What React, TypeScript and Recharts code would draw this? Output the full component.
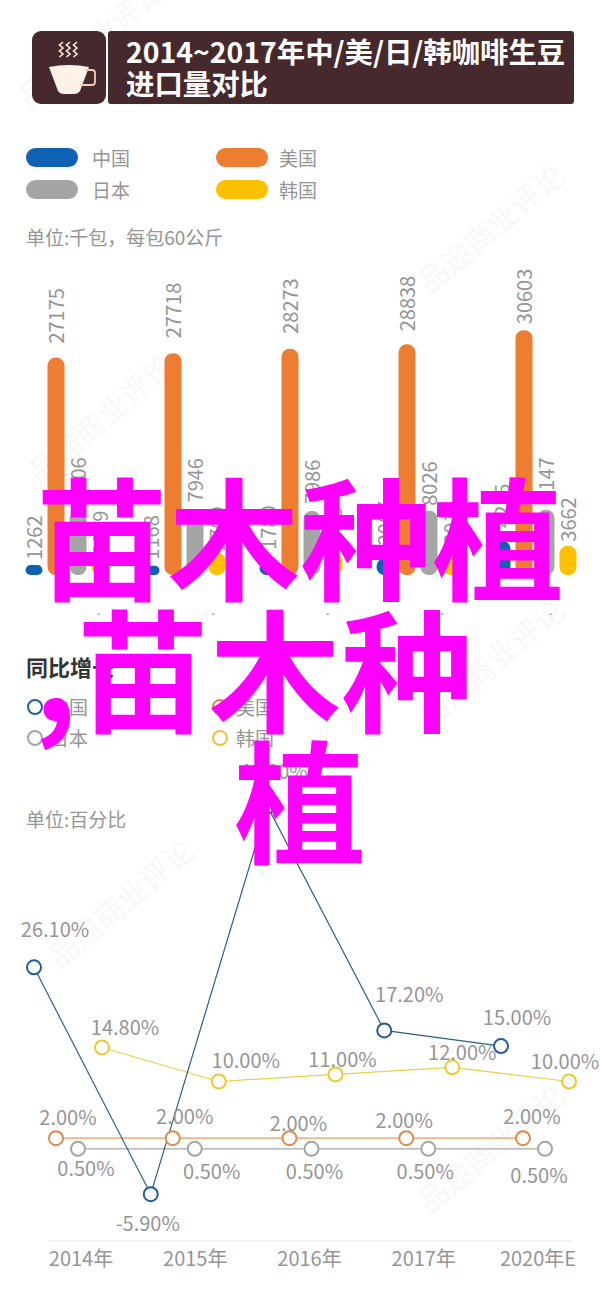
import { Bar, BarChart, LabelList, Line, LineChart, XAxis, YAxis } from 'recharts'

const FONT = '"Noto Sans CJK SC", "Noto Sans", sans-serif'
const TEXT_GREY = '#959595'

const barYears = ['2014年', '2015年', '2016年', '2017年', '2020年E']

// imports, thousand bags (partly covered in the picture, those are estimates)
const chinaImports = [1262, 1168, 1780, 2087, 4255]
const usImports = [27175, 27718, 28273, 28838, 30603]
const japanImports = [7906, 7946, 7986, 8026, 8147]
const koreaImports = [2009, 2769, 2785, 3016, 3662]

// growth, percent
const chinaGrowth = [26.1, -5.9, 48.8, 17.2, 15]
const usGrowth = [2, 2, 2, 2, 2]
const japanGrowth = [0.5, 0.5, 0.5, 0.5, 0.5]
const koreaGrowth = [14.8, 10, 11, 12, 10]

const importRows = barYears.map((year, i) => ({
  year,
  china: chinaImports[i],
  us: usImports[i],
  japan: japanImports[i],
  korea: koreaImports[i],
}))

const growthRows = barYears.map((year, i) => ({
  year,
  china: chinaGrowth[i],
  us: usGrowth[i],
  japan: japanGrowth[i],
  korea: koreaGrowth[i],
}))

// gap between a bar top and its rotated label, it varies in the original
const chinaLabelGap = [5, 6, 11, 13, 13]
const usLabelGap = [14, 15, 15, 13, 6]
const japanLabelGap = [10, 9, 7, 5, 8]
const koreaLabelGap = [4, 2, 2, 6, 4]

// hand placed labels on the growth chart, they do not follow a single rule in the original
const chinaLabelShift = [[21, -39], [-3, 28], [6, -36], [25, -37], [16, -30]]
const usLabelShift = [[12, -22], [12, -23], [9, -16], [-2, -19], [9, -23]]
const japanLabelShift = [[8, 19], [17, 22], [3, 22], [-3, 22], [-6, 26]]
const koreaLabelShift = [[23, -21], [27, -22], [7, -16], [10, -16], [-4, -21]]

const watermarks = [
  { left: 400, top: 205 },
  { left: 10, top: 395 },
  { left: 400, top: 640 },
  { left: 30, top: 880 },
  { left: 400, top: 1125 },
  { left: 0, top: 20 },
]

function rotatedLabel(gaps: number[]) {
  return function RotatedLabel({ x, y, width, index, value }: any) {
    const cx = x + width / 2
    const by = y - gaps[index]
    return (
      <text
        x={cx}
        y={by}
        transform={`rotate(-90 ${cx} ${by})`}
        dominantBaseline="central"
        fontSize={20}
        fontFamily={FONT}
        fill={TEXT_GREY}
      >
        {value}
      </text>
    )
  }
}

function percentLabel(shift: number[][]) {
  return function PercentLabel({ x, y, index, value }: any) {
    const [dx, dy] = shift[index]
    return (
      <text
        x={x + dx}
        y={y + dy}
        textAnchor="middle"
        dominantBaseline="central"
        fontSize={20}
        fontFamily={FONT}
        fill={TEXT_GREY}
      >
        {value.toFixed(2)}%
      </text>
    )
  }
}

function Pill({ left, top, textLeft, color, name }: any) {
  return (
    <>
      <div style={{ position: 'absolute', left, top, width: 52, height: 19, borderRadius: 10, background: color }} />
      <Caption left={textLeft} top={top - 4} size={19}>{name}</Caption>
    </>
  )
}

function Ring({ left, top, textLeft, color, name }: any) {
  return (
    <>
      <div
        style={{
          position: 'absolute',
          left,
          top,
          width: 12,
          height: 12,
          borderRadius: 8,
          border: `2px solid ${color}`,
        }}
      />
      <Caption left={textLeft} top={top - 6} size={19}>{name}</Caption>
    </>
  )
}

function Caption({ left, top, size, color, weight, children }: any) {
  return (
    <div
      style={{
        position: 'absolute',
        left,
        top,
        fontSize: size,
        lineHeight: '28px',
        whiteSpace: 'nowrap',
        color: color || TEXT_GREY,
        fontWeight: weight || 400,
      }}
    >
      {children}
    </div>
  )
}

function CupIcon() {
  return (
    <svg width={74} height={73} style={{ position: 'absolute', left: 32, top: 31 }}>
      <rect width={74} height={73} rx={9} fill="#46292d" />
      <path
        d="M31 11l-3.500 3 3.500 3-3.500 3 3.500 3-3.500 3 M38 11l-3.500 3 3.500 3-3.500 3 3.500 3-3.500 3 M45 11l-3.500 3 3.500 3-3.500 3 3.500 3-3.500 3"
        fill="none"
        stroke="#fbe9dc"
        strokeWidth={1.6}
      />
      <path d="M17 36q20-4 40 0l-9 24q-2 3-6 3h-10q-4 0-6-3z" fill="#fdf1e8" />
      <path d="M53 39h7q3 0 3 3v9q0 3-3 3h-12" fill="none" stroke="#f2cfb4" strokeWidth={1.8} />
    </svg>
  )
}

function OverlayLine({ left, top, children }: any) {
  return (
    <div
      style={{
        position: 'absolute',
        left,
        top,
        fontSize: 132,
        lineHeight: '132px',
        fontWeight: 700,
        color: '#ff00ff',
        whiteSpace: 'nowrap',
      }}
    >
      {children}
    </div>
  )
}

const tickStyle = { fill: TEXT_GREY, fontSize: 20, fontFamily: FONT }

function ImportsChart() {
  return (
    <BarChart
      width={600}
      height={365}
      data={importRows}
      margin={{ top: 45, right: 6.5, bottom: 0, left: 8.5 }}
      barSize={17}
      barGap={5}
      style={{ position: 'absolute', left: 0, top: 250 }}
    >
      <XAxis xAxisId="bars" dataKey="year" hide />
      <XAxis
        xAxisId="labels"
        dataKey="year"
        scale="point"
        padding={{ left: 72, right: 55 }}
        interval={0}
        height={40}
        axisLine={false}
        tickLine={false}
        tick={tickStyle}
        tickMargin={6}
      />
      <YAxis hide domain={[0, 35000]} />
      <Bar xAxisId="bars" dataKey="china" fill="#0f62b3" radius={8} isAnimationActive={false}>
        <LabelList dataKey="china" content={rotatedLabel(chinaLabelGap)} />
      </Bar>
      <Bar xAxisId="bars" dataKey="us" fill="#ed7d31" radius={8} isAnimationActive={false}>
        <LabelList dataKey="us" content={rotatedLabel(usLabelGap)} />
      </Bar>
      <Bar xAxisId="bars" dataKey="japan" fill="#a5a5a5" radius={8} isAnimationActive={false}>
        <LabelList dataKey="japan" content={rotatedLabel(japanLabelGap)} />
      </Bar>
      <Bar xAxisId="bars" dataKey="korea" fill="#ffc000" radius={8} isAnimationActive={false}>
        <LabelList dataKey="korea" content={rotatedLabel(koreaLabelGap)} />
      </Bar>
    </BarChart>
  )
}

function GrowthChart() {
  const dot = (color: string) => ({ r: 7, stroke: color, strokeWidth: 2, fill: '#fff' })
  return (
    <LineChart
      width={600}
      height={581}
      data={growthRows}
      margin={{ top: 27, right: 28, bottom: 0, left: 48 }}
      style={{ position: 'absolute', left: 0, top: 700 }}
    >
      <XAxis
        dataKey="year"
        scale="point"
        padding={{ left: 33, right: 34 }}
        interval={0}
        height={40}
        axisLine={{ stroke: '#e6e6e6' }}
        tickLine={false}
        tick={tickStyle}
        tickMargin={5}
      />
      <XAxis xAxisId="china" dataKey="year" scale="point" hide padding={{ left: -14, right: 71 }} />
      <XAxis xAxisId="us" dataKey="year" scale="point" hide padding={{ left: 8, right: 49 }} />
      <XAxis xAxisId="japan" dataKey="year" scale="point" hide padding={{ left: 30, right: 27 }} />
      <XAxis xAxisId="korea" dataKey="year" scale="point" hide padding={{ left: 54, right: 3 }} />
      <YAxis hide domain={[-12.5, 60]} />
      <Line xAxisId="japan" dataKey="japan" stroke="#a5a5a5" strokeWidth={1.2} dot={dot('#a5a5a5')} isAnimationActive={false}>
        <LabelList dataKey="japan" content={percentLabel(japanLabelShift)} />
      </Line>
      <Line xAxisId="us" dataKey="us" stroke="#e39a66" strokeWidth={1.2} dot={dot('#de8a4a')} isAnimationActive={false}>
        <LabelList dataKey="us" content={percentLabel(usLabelShift)} />
      </Line>
      <Line xAxisId="korea" dataKey="korea" stroke="#ecce4a" strokeWidth={1.2} dot={dot('#edc92c')} isAnimationActive={false}>
        <LabelList dataKey="korea" content={percentLabel(koreaLabelShift)} />
      </Line>
      <Line xAxisId="china" dataKey="china" stroke="#2f6088" strokeWidth={1.2} dot={dot('#1f5c99')} isAnimationActive={false}>
        <LabelList dataKey="china" content={percentLabel(chinaLabelShift)} />
      </Line>
    </LineChart>
  )
}

export default function App() {
  return (
    <div
      style={{
        position: 'absolute',
        left: 0,
        top: 0,
        width: 600,
        height: 1313,
        overflow: 'hidden',
        background: '#fff',
        fontFamily: FONT,
      }}
    >
      {watermarks.map((mark) => (
        <div
          key={`${mark.left}-${mark.top}`}
          style={{
            position: 'absolute',
            left: mark.left,
            top: mark.top,
            fontSize: 30,
            color: '#f8f8f8',
            transform: 'rotate(-40deg)',
            whiteSpace: 'nowrap',
          }}
        >
          品途商业评论
        </div>
      ))}

      <CupIcon />
      <div
        style={{
          position: 'absolute',
          left: 108,
          top: 31,
          width: 466,
          height: 73,
          borderRadius: 3,
          background: '#46292d',
        }}
      />
      <div
        style={{
          position: 'absolute',
          left: 126,
          top: 35,
          fontSize: 28.4,
          lineHeight: '32px',
          fontWeight: 700,
          color: '#fff',
          whiteSpace: 'nowrap',
        }}
      >
        2014~2017年中/美/日/韩咖啡生豆
        <br />
        进口量对比
      </div>

      <Pill left={26} top={148} textLeft={92} color="#0f62b3" name="中国" />
      <Pill left={216} top={148} textLeft={279} color="#ed7d31" name="美国" />
      <Pill left={26} top={180} textLeft={92} color="#a5a5a5" name="日本" />
      <Pill left={216} top={180} textLeft={279} color="#ffc000" name="韩国" />
      <Caption left={26} top={223} size={19}>单位:千包，每包60公斤</Caption>

      <ImportsChart />

      <Caption left={26} top={652} size={22} color="#333" weight={700}>同比增长</Caption>
      <Ring left={27} top={699} textLeft={50} color="#1f6299" name="中国" />
      <Ring left={212} top={699} textLeft={236} color="#d98a45" name="美国" />
      <Ring left={27} top={730} textLeft={50} color="#a5a5a5" name="日本" />
      <Ring left={212} top={730} textLeft={236} color="#ecc440" name="韩国" />
      <Caption left={26} top={805} size={19}>单位:百分比</Caption>

      <GrowthChart />

      <OverlayLine left={36} top={467}>苗木种植</OverlayLine>
      <OverlayLine left={34} top={599}>,苗木种</OverlayLine>
      <OverlayLine left={234} top={730}>植</OverlayLine>
    </div>
  )
}
